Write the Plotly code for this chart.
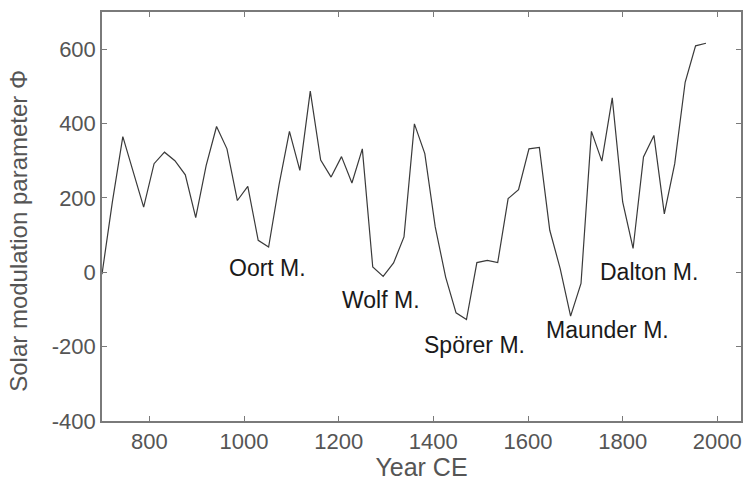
import plotly.graph_objects as go

years = [700, 722, 744, 766, 788, 810, 832, 854, 876, 898,
         920, 942, 964, 986, 1008, 1030, 1052, 1074, 1096, 1118,
         1140, 1162, 1184, 1206, 1228, 1250, 1272, 1294, 1316, 1338,
         1360, 1382, 1404, 1426, 1448, 1470, 1492, 1514, 1536, 1558,
         1580, 1602, 1624, 1646, 1668, 1690, 1712, 1734, 1756, 1778,
         1800, 1822, 1844, 1866, 1888, 1910, 1932, 1954, 1976]
phi = [-5, 190, 365, 270, 175, 292, 323, 300, 262, 147,
       287, 392, 332, 193, 231, 86, 68, 235, 379, 274,
       487, 302, 256, 311, 240, 332, 14, -11, 25, 95,
       399, 319, 122, -13, -109, -127, 26, 32, 26, 198,
       222, 332, 336, 113, 10, -118, -30, 379, 299, 469,
       189, 64, 310, 368, 157, 292, 511, 609, 616]

minima_labels = ["Oort M.", "Wolf M.", "Spörer M.", "Maunder M.", "Dalton M."]
minima_x = [1049, 1290, 1488, 1767, 1855]
minima_y = [11, -75, -196, -156, 0]

x_ticks = [800, 1000, 1200, 1400, 1600, 1800, 2000]
x_tick_labels = ["800", "1000", "1200", "1400", "1600", "1800", "2000"]
y_ticks = [-400, -200, 0, 200, 400, 600]
y_tick_labels = ["-400", "-200", "0", "200", "400", "600"]

FONT = "Liberation Sans, Arial, sans-serif"

fig = go.Figure()
fig.add_trace(go.Scatter(x=years, y=phi, mode="lines",
                         line=dict(color="#3a3a3a", width=1.2),
                         showlegend=False, hoverinfo="skip"))

for t, xx, yy in zip(minima_labels, minima_x, minima_y):
    fig.add_annotation(x=xx, y=yy, xref="x", yref="y", text=t, showarrow=False,
                       font=dict(family=FONT, size=23, color="#1a1a1a"))

# y-axis title (placed as annotation to match its offset in the reference)
fig.add_annotation(x=-0.1318, y=0.4645, xref="paper", yref="paper",
                   text="Solar modulation parameter Φ", textangle=-90, showarrow=False,
                   xanchor="center", yanchor="middle",
                   font=dict(family=FONT, size=24, color="#555555"))

axis_common = dict(showline=True, linecolor="#7a7a7a", linewidth=1.5, mirror="ticks",
                   ticks="inside", ticklen=5, tickcolor="#7a7a7a", tickwidth=1,
                   showgrid=False, zeroline=False,
                   tickfont=dict(family=FONT, size=22, color="#555555"))

fig.update_xaxes(range=[700, 2050], tickvals=x_ticks, ticktext=x_tick_labels,
                 title=dict(text="Year CE", font=dict(family=FONT, size=25, color="#555555"), standoff=0),
                 **axis_common)
fig.update_yaxes(range=[-400, 700], tickvals=y_ticks, ticktext=y_tick_labels,
                 **axis_common)

fig.update_layout(width=748, height=481, margin=dict(l=102, r=5, t=12, b=60),
                  plot_bgcolor="white", paper_bgcolor="white")

fig.write_html("out.html")
